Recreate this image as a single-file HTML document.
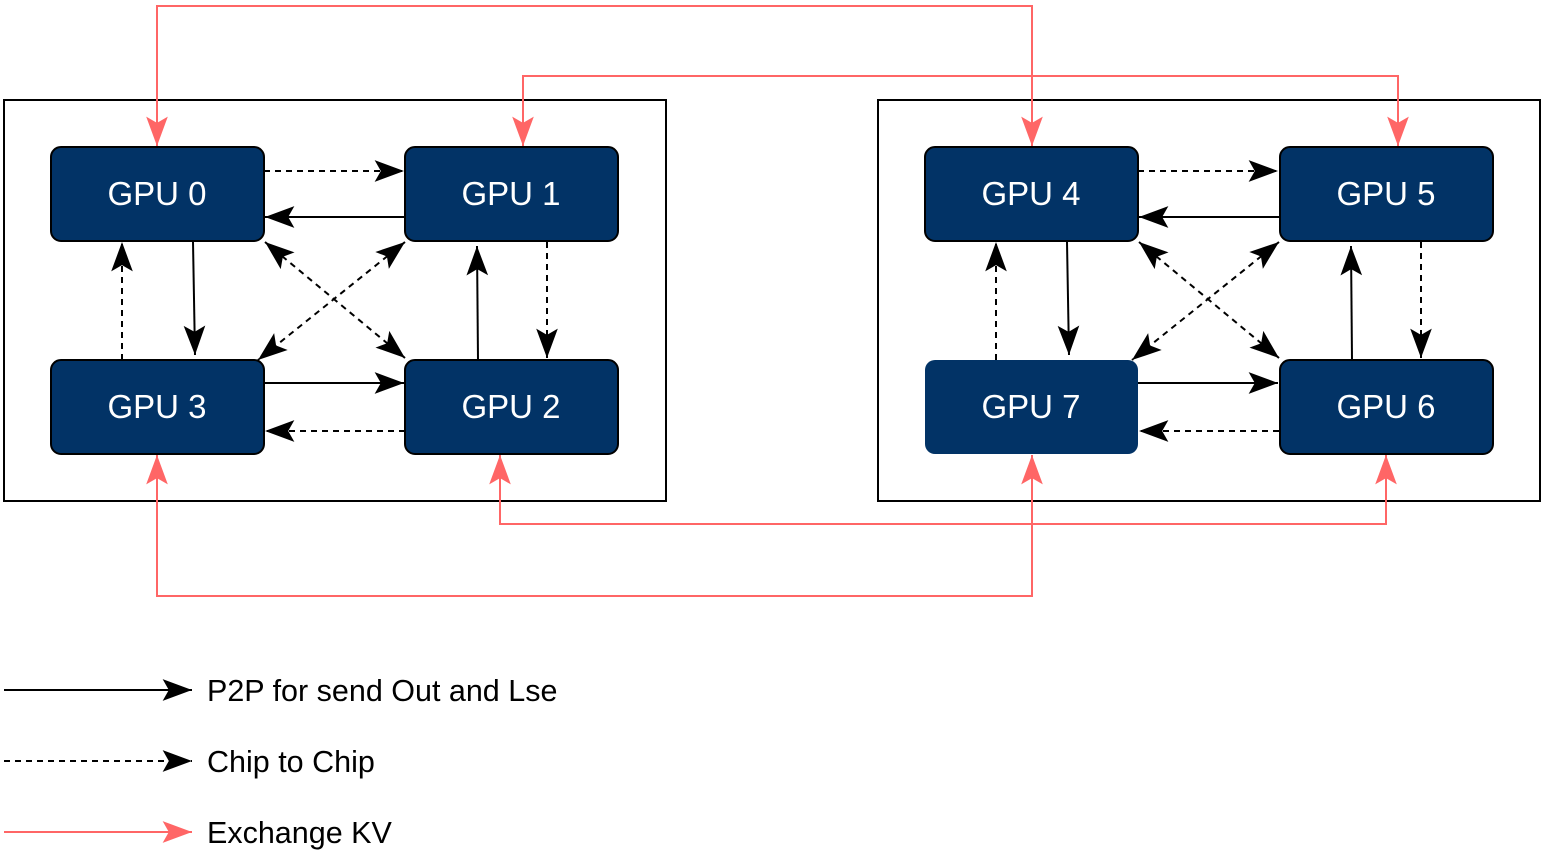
<!DOCTYPE html>
<html><head><meta charset="utf-8"><style>
html,body{margin:0;padding:0;background:#fff;}
svg{display:block;}
text{font-family:"Liberation Sans",Arial,sans-serif;}
</style></head><body>
<svg width="1545" height="853" viewBox="0 0 1545 853" xmlns="http://www.w3.org/2000/svg">
<defs>
<marker id="ak" markerUnits="userSpaceOnUse" markerWidth="34" markerHeight="26" viewBox="0 0 22 16" refX="20" refY="8" orient="auto-start-reverse">
<path d="M1,1 L20,8 L1,15 L5,8 z" fill="#000"/>
</marker>
<marker id="ar" markerUnits="userSpaceOnUse" markerWidth="34" markerHeight="26" viewBox="0 0 22 16" refX="20" refY="8" orient="auto-start-reverse">
<path d="M1,1 L20,8 L1,15 L5,8 z" fill="#FF6666"/>
</marker>
<g id="cluster">
<rect x="4" y="100" width="662" height="401" fill="none" stroke="#000" stroke-width="2"/>
<g stroke="#000" stroke-width="2" fill="none">
<line x1="264" y1="171" x2="404" y2="171" stroke-dasharray="6,5" marker-end="url(#ak)"/>
<line x1="405" y1="217" x2="265" y2="217" marker-end="url(#ak)"/>
<line x1="193" y1="242" x2="195" y2="355" marker-end="url(#ak)"/>
<line x1="122" y1="360" x2="122" y2="242" stroke-dasharray="6,5" marker-end="url(#ak)"/>
<line x1="547" y1="242" x2="547" y2="358" stroke-dasharray="6,5" marker-end="url(#ak)"/>
<line x1="478" y1="360" x2="477" y2="246" marker-end="url(#ak)"/>
<line x1="264" y1="383" x2="404" y2="383" marker-end="url(#ak)"/>
<line x1="405" y1="431" x2="265" y2="431" stroke-dasharray="6,5" marker-end="url(#ak)"/>
<line x1="265" y1="242" x2="405" y2="358" stroke-dasharray="6,5" marker-start="url(#ak)" marker-end="url(#ak)"/>
<line x1="405" y1="242" x2="258" y2="360" stroke-dasharray="6,5" marker-start="url(#ak)" marker-end="url(#ak)"/>
</g>
</g>
</defs>
<use href="#cluster"/>
<use href="#cluster" transform="translate(874,0)"/>
<g fill="#023366" stroke="#000" stroke-width="2">
<rect x="51" y="147" width="213" height="94" rx="10"/>
<rect x="405" y="147" width="213" height="94" rx="10"/>
<rect x="51" y="360" width="213" height="94" rx="10"/>
<rect x="405" y="360" width="213" height="94" rx="10"/>
<rect x="925" y="147" width="213" height="94" rx="10"/>
<rect x="1280" y="147" width="213" height="94" rx="10"/>
<rect x="925" y="360" width="213" height="94" rx="10" stroke="none"/>
<rect x="1280" y="360" width="213" height="94" rx="10"/>
</g>
<g fill="#fff" font-size="33" text-anchor="middle">
<text x="157" y="205">GPU 0</text>
<text x="511" y="205">GPU 1</text>
<text x="157" y="418">GPU 3</text>
<text x="511" y="418">GPU 2</text>
<text x="1031" y="205">GPU 4</text>
<text x="1386" y="205">GPU 5</text>
<text x="1031" y="418">GPU 7</text>
<text x="1386" y="418">GPU 6</text>
</g>
<g stroke="#FF6666" stroke-width="2" fill="none">
<polyline points="157,146 157,6 1032,6 1032,146" marker-start="url(#ar)" marker-end="url(#ar)"/>
<polyline points="523,146 523,76 1398,76 1398,146" marker-start="url(#ar)" marker-end="url(#ar)"/>
<polyline points="157,455 157,596 1032,596 1032,455" marker-start="url(#ar)" marker-end="url(#ar)"/>
<polyline points="500,455 500,524 1386,524 1386,455" marker-start="url(#ar)" marker-end="url(#ar)"/>
</g>
<g stroke-width="2">
<line x1="4" y1="690" x2="192" y2="690" stroke="#000" marker-end="url(#ak)"/>
<line x1="4" y1="761" x2="192" y2="761" stroke="#000" stroke-dasharray="6,5" marker-end="url(#ak)"/>
<line x1="4" y1="832" x2="192" y2="832" stroke="#FF6666" marker-end="url(#ar)"/>
</g>
<g font-size="30.5" fill="#000">
<text x="207" y="701">P2P for send Out and Lse</text>
<text x="207" y="772">Chip to Chip</text>
<text x="207" y="843">Exchange KV</text>
</g>
</svg>
</body></html>
